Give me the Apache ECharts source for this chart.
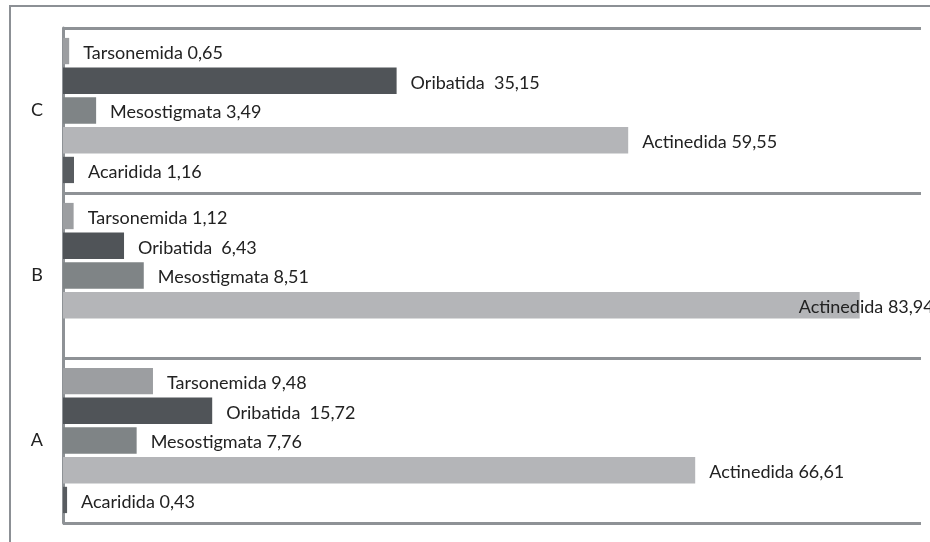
<!DOCTYPE html>
<html><head><meta charset="utf-8">
<script src="https://cdn.jsdelivr.net/npm/echarts@6/dist/echarts.min.js"></script>
<style>html,body{margin:0;padding:0;background:#fff}#c{width:930px;height:542px}</style>
</head><body><div id="c"></div>
<script>
// Groups, bottom to top
const categories = ['A', 'B', 'C'];
// Series (top of each group to bottom)
const seriesNames = ['Tarsonemida', 'Oribatida', 'Mesostigmata', 'Actinedida', 'Acaridida'];
const labelSeparators = [' ', '  ', ' ', ' ', ' '];
const tarsonemida = [9.48, 1.12, 0.65];
const oribatida = [15.72, 6.43, 35.15];
const mesostigmata = [7.76, 8.51, 3.49];
const actinedida = [66.61, 83.94, 59.55];
const acaridida = [0.43, null, 1.16];
const seriesValues = [tarsonemida, oribatida, mesostigmata, actinedida, acaridida];

const colors = ['#9c9ea1', '#505458', '#7f8486', '#b4b5b8', '#585c60'];
const font = 'Lato';
// label style override for the one label drawn over its bar in the original
const labelOverrides = { 'Actinedida|B': { offset: [-75, 2] } };

const chart = echarts.init(document.getElementById('c'), null, { renderer: 'canvas' });
const series = seriesNames.map((name, si) => ({
  name: name,
  type: 'bar',
  barGap: '13%',
  barCategoryGap: '12%',
  itemStyle: { color: colors[si] },
  label: {
    show: true,
    position: 'right',
    distance: 14,
    offset: [0, 2],
    color: '#222',
    fontFamily: font,
    fontSize: 18,
    formatter: p => name + labelSeparators[si] + p.value.toFixed(2).replace('.', ',')
  },
  data: seriesValues[si].map((v, ci) => {
    if (v === null) return '-';
    const ov = labelOverrides[name + '|' + categories[ci]];
    return ov ? { value: v, label: ov } : v;
  })
}));

chart.setOption({
  animation: false,
  backgroundColor: '#fff',
  grid: { left: 63, right: 9, top: 28, bottom: 19, containLabel: false },
  xAxis: {
    type: 'value', min: 0, max: 90.4,
    show: false
  },
  yAxis: {
    type: 'category',
    data: categories,
    axisLine: { show: true, lineStyle: { color: '#8e9296', width: 3 } },
    axisTick: { show: false },
    axisLabel: { color: '#222', fontFamily: font, fontSize: 18, margin: 20 },
    splitLine: { show: true, lineStyle: { color: '#8e9296', width: 3 } }
  },
  series: series,
  graphic: [
    { type: 'polyline', silent: true,
      shape: { points: [[10, 542], [10, 6], [930, 6]] },
      style: { stroke: '#8c9095', lineWidth: 2, fill: null } }
  ]
});
</script>
</body></html>
